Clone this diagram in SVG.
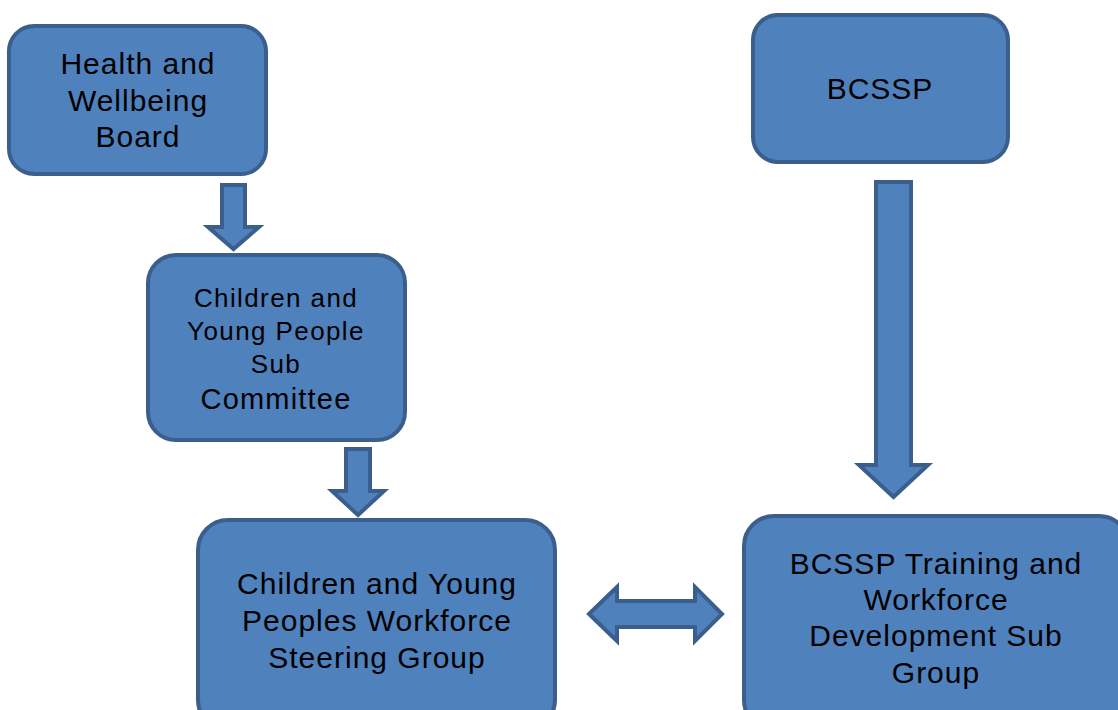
<svg xmlns="http://www.w3.org/2000/svg" width="1118" height="710" viewBox="0 0 1118 710">
  <style>
    .box { fill: #4F81BD; stroke: #3A5F8C; stroke-width: 4; }
    .arrow { fill: #4F81BD; stroke: #3A5F8C; stroke-width: 4; stroke-linejoin: miter; }
    .label { font-family: "Liberation Sans", Arial, sans-serif; font-size: 30px; letter-spacing: 1px; fill: #000; text-anchor: middle; }
    .small { font-size: 26px; letter-spacing: 1.4px; }
    .mid { font-size: 29px; letter-spacing: 1.2px; }
  </style>
  <rect width="1118" height="710" fill="#ffffff"/>

  <g id="connectors">
    <path class="arrow" d="M222,185 H245 V227 H259 L233.5,249 L208,227 H222 Z"/>
    <path class="arrow" d="M346,449 H370 V491 H384 L358,515 L332,491 H346 Z"/>
    <path class="arrow" d="M876,182 H911 V465 H928 L893.5,497 L859,465 H876 Z"/>
    <path class="arrow" stroke-linejoin="round" d="M589,614 L617,587 V601 H695 V587 L722,614 L695,641 V627 H617 V641 Z"/>
  </g>

  <g id="health-wellbeing-board">
    <rect class="box" x="9" y="26" width="257" height="148" rx="25"/>
    <text class="label" x="138" y="74">Health and</text>
    <text class="label" x="138" y="110.5">Wellbeing</text>
    <text class="label" x="138" y="147">Board</text>
  </g>

  <g id="cyp-sub-committee">
    <rect class="box" x="148" y="255" width="257" height="185" rx="28"/>
    <text class="label small" x="276" y="307">Children and</text>
    <text class="label small" x="276" y="340">Young People</text>
    <text class="label small" x="276" y="373">Sub</text>
    <text class="label mid" x="276" y="409">Committee</text>
  </g>

  <g id="cyp-workforce-steering-group">
    <rect class="box" x="198" y="520" width="357" height="210" rx="30"/>
    <text class="label" x="377" y="594">Children and Young</text>
    <text class="label" x="377" y="631">Peoples Workforce</text>
    <text class="label" x="377" y="668">Steering Group</text>
  </g>

  <g id="bcssp">
    <rect class="box" x="753" y="15" width="255" height="147" rx="25"/>
    <text class="label" x="880" y="99">BCSSP</text>
  </g>

  <g id="bcssp-training-workforce">
    <rect class="box" x="744" y="516" width="385" height="214" rx="30"/>
    <text class="label" x="936" y="574">BCSSP Training and</text>
    <text class="label" x="936" y="610">Workforce</text>
    <text class="label" x="936" y="646">Development Sub</text>
    <text class="label" x="936" y="683">Group</text>
  </g>
</svg>
